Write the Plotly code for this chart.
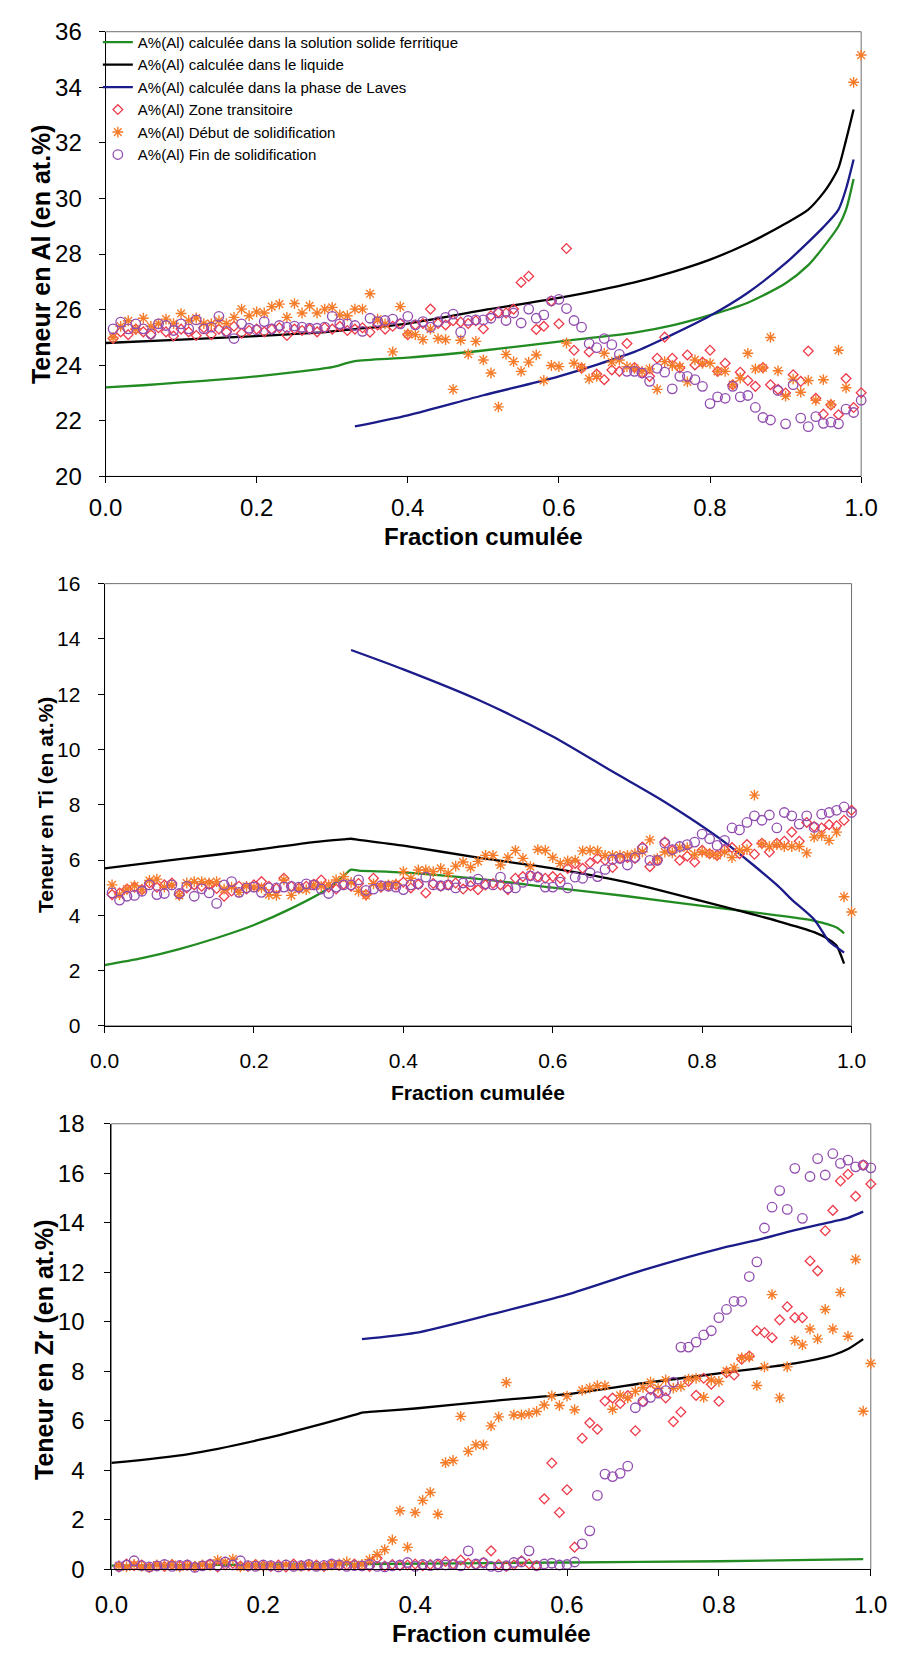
import plotly.graph_objects as go

# ---------------------------------------------------------------- data
# cumulated fraction grid of the measurements (0.01 ... 1.00)
FRACTION = [round(0.01 * k, 2) for k in range(1, 101)]

# ---- Al
AL_ZONE = [
    24.96, 25.20, 25.10, 25.30, 25.20, 25.10, 25.35, 25.20, 25.05, 25.30,
    25.20, 25.07, 25.35, 25.10, 25.30, 25.20, 25.40, 25.15, 25.25, 25.30,
    25.20, 25.30, 25.35, 25.07, 25.30, 25.25, 25.30, 25.20, 25.35, 25.30,
    25.40, 25.25, 25.30, 25.35, 25.19, 25.45, 25.30, 25.40, 25.50, 25.10,
    25.45, 25.50, 26.02, 25.50, 25.45, 25.60, 25.55, 25.50, 25.60, 25.31,
    25.78, 25.90, 25.88, 26.02, 26.98, 27.20, 25.29, 25.40, 26.31, 25.49,
    28.20, 24.54, 23.89, 24.48, 23.68, 23.48, 23.83, 23.78, 24.78, 23.92,
    23.72, 23.60, 24.25, 25.01, 24.25, 23.90, 24.37, 24.01, 24.11, 24.54,
    23.78, 24.07, 23.30, 23.75, 23.45, 23.24, 23.92, 23.30, 23.13, 23.00,
    23.66, 23.42, 24.51, 22.81, 22.24, 22.57, 22.22, 23.52, 22.48, 23.01,
]
AL_DEBUT = [
    25.00, 25.40, 25.60, 25.30, 25.69, 25.40, 25.50, 25.66, 25.50, 25.86,
    25.61, 25.70, 25.50, 25.50, 25.60, 25.50, 25.72, 26.02, 25.78, 25.92,
    25.88, 26.11, 26.20, 25.72, 26.22, 25.88, 26.14, 25.88, 26.02, 26.08,
    25.81, 25.78, 26.02, 26.02, 26.57, 25.66, 25.49, 24.48, 26.11, 25.13,
    25.10, 24.92, 25.30, 24.96, 24.92, 23.13, 24.90, 24.40, 24.86, 24.19,
    23.72, 22.50, 24.39, 24.13, 23.78, 24.11, 24.37, 23.45, 23.99, 23.95,
    24.80, 24.07, 23.92, 23.51, 23.60, 24.43, 24.11, 24.19, 23.95, 23.89,
    23.78, 23.87, 23.13, 24.13, 23.99, 23.95, 23.40, 24.19, 24.07, 24.07,
    23.78, 23.78, 23.30, 23.54, 24.43, 23.87, 23.90, 25.00, 23.80, 22.89,
    23.50, 23.03, 23.45, 22.74, 23.48, 22.60, 24.54, 23.19, 34.18, 35.16,
]
AL_FIN = [
    25.31, 25.55, 25.31, 25.49, 25.31, 25.13, 25.49, 25.43, 25.25, 25.49,
    25.31, 25.63, 25.31, 25.37, 25.76, 25.22, 24.96, 25.49, 25.33, 25.27,
    25.57, 25.31, 25.43, 25.37, 25.41, 25.37, 25.33, 25.33, 25.37, 25.76,
    25.49, 25.49, 25.43, 25.22, 25.69, 25.57, 25.61, 25.66, 25.49, 25.76,
    25.45, 25.57, 25.37, 25.57, 25.72, 25.84, 25.19, 25.61, 25.63, 25.63,
    25.69, 25.88, 25.61, 25.88, 25.52, 26.02, 25.69, 25.81, 26.31, 26.37,
    26.04, 25.61, 25.37, 24.78, 24.63, 24.96, 24.74, 24.39, 23.78, 23.78,
    23.72, 23.42, 23.89, 23.75, 23.15, 23.60, 23.60, 23.48, 23.24, 22.62,
    22.86, 22.81, 23.24, 22.86, 22.91, 22.48, 22.12, 22.03, 23.09, 21.89,
    23.30, 22.10, 21.79, 22.15, 21.91, 21.95, 21.89, 22.42, 22.30, 22.74,
]
AL_SS_X = [0, 0.05, 0.1, 0.15, 0.2, 0.25, 0.28, 0.3, 0.33, 0.4, 0.5, 0.6,
           0.7, 0.75, 0.8, 0.85, 0.9, 0.93, 0.95, 0.97, 0.98, 0.99]
AL_SS = [23.20, 23.28, 23.38, 23.48, 23.60, 23.75, 23.85, 23.93, 24.15, 24.27,
         24.53, 24.85, 25.17, 25.43, 25.80, 26.25, 26.95, 27.60, 28.25, 29.00,
         29.60, 30.70]
AL_LIQ_X = [0, 0.1, 0.2, 0.28, 0.33, 0.4, 0.5, 0.6, 0.7, 0.75, 0.8, 0.85,
            0.9, 0.93, 0.95, 0.96, 0.97, 0.98, 0.99]
AL_LIQ = [24.80, 24.92, 25.05, 25.17, 25.30, 25.50, 25.98, 26.42, 26.98, 27.35,
          27.80, 28.38, 29.10, 29.60, 30.20, 30.60, 31.10, 32.10, 33.20]
AL_LAV_X = [0.33, 0.4, 0.5, 0.6, 0.7, 0.75, 0.8, 0.85, 0.9, 0.95, 0.97, 0.98, 0.99]
AL_LAV = [21.80, 22.20, 22.92, 23.60, 24.48, 25.10, 25.78, 26.61, 27.67, 28.97,
          29.60, 30.35, 31.40]

# ---- Ti
TI_ZONE = [
    4.75, 4.81, 4.95, 5.02, 4.93, 5.17, 5.02, 5.10, 5.17, 4.75,
    4.99, 5.10, 5.05, 5.12, 4.97, 4.69, 4.88, 5.05, 4.95, 5.10,
    5.22, 5.05, 4.97, 5.34, 5.05, 4.99, 5.05, 5.12, 5.28, 5.02,
    4.95, 5.12, 5.05, 5.15, 4.75, 5.34, 5.02, 5.07, 5.10, 5.20,
    4.99, 5.12, 4.81, 5.15, 5.05, 5.10, 5.17, 4.95, 5.07, 4.93,
    5.10, 5.15, 5.10, 4.93, 5.34, 5.40, 5.43, 5.40, 5.34, 5.40,
    5.34, 5.70, 5.88, 5.70, 5.90, 6.06, 5.99, 5.73, 6.06, 6.09,
    6.06, 6.47, 5.76, 5.99, 6.65, 6.35, 5.99, 6.14, 5.93, 6.35,
    6.23, 6.17, 6.38, 6.45, 6.23, 6.56, 6.21, 6.61, 6.29, 6.61,
    6.68, 7.01, 6.68, 7.36, 7.21, 7.16, 7.28, 7.24, 7.44, 7.80,
]
TI_DEBUT = [
    5.10, 4.75, 4.95, 5.07, 4.93, 5.26, 5.31, 5.02, 5.10, 4.72,
    5.17, 5.22, 5.22, 5.17, 5.22, 4.95, 5.02, 4.83, 5.05, 5.02,
    4.99, 4.75, 4.72, 5.28, 4.72, 4.95, 4.93, 5.10, 5.05, 5.10,
    5.28, 5.40, 5.19, 4.87, 4.72, 5.14, 5.05, 5.10, 5.14, 5.58,
    5.34, 5.64, 5.64, 5.58, 5.70, 5.52, 5.78, 5.93, 5.73, 5.95,
    6.17, 6.17, 5.82, 6.09, 6.35, 6.06, 5.76, 6.38, 6.35, 6.09,
    5.88, 5.97, 5.99, 6.33, 6.35, 6.33, 6.17, 6.17, 6.17, 6.17,
    6.23, 6.30, 6.73, 6.06, 6.29, 6.26, 6.45, 6.45, 6.20, 6.29,
    6.23, 6.17, 6.30, 6.09, 6.35, 6.38, 8.35, 6.59, 6.49, 6.56,
    6.49, 6.49, 6.49, 6.26, 6.83, 6.89, 6.71, 7.01, 4.67, 4.12,
]
TI_FIN = [
    4.81, 4.55, 4.69, 4.72, 4.87, 5.10, 4.75, 4.79, 5.10, 4.79,
    5.05, 4.69, 4.96, 4.81, 4.43, 5.10, 5.22, 4.83, 4.99, 5.02,
    4.83, 4.99, 4.99, 5.02, 5.05, 5.02, 5.14, 5.10, 4.95, 4.79,
    5.02, 5.10, 5.10, 5.28, 4.90, 4.95, 5.07, 5.05, 5.02, 4.93,
    5.10, 5.14, 5.38, 5.10, 5.07, 5.10, 4.99, 5.17, 5.22, 5.31,
    5.14, 5.10, 5.38, 4.99, 4.99, 5.19, 5.43, 5.38, 5.02, 5.02,
    5.20, 4.99, 5.38, 5.34, 5.54, 5.40, 5.66, 6.02, 6.06, 5.82,
    6.09, 6.41, 5.99, 5.99, 6.61, 6.38, 6.49, 6.56, 6.65, 6.94,
    6.77, 6.53, 6.71, 7.16, 7.09, 7.36, 7.60, 7.44, 7.63, 7.16,
    7.72, 7.60, 7.30, 7.60, 7.18, 7.66, 7.72, 7.80, 7.92, 7.72,
]
TI_SS_X = [0, 0.05, 0.1, 0.15, 0.2, 0.25, 0.3, 0.32, 0.33, 0.34, 0.4, 0.5,
           0.6, 0.7, 0.8, 0.9, 0.95, 0.98, 0.99]
TI_SS = [2.20, 2.45, 2.78, 3.18, 3.65, 4.25, 4.98, 5.42, 5.65, 5.62, 5.55, 5.32,
         5.00, 4.69, 4.34, 4.00, 3.80, 3.56, 3.35]
TI_LIQ_X = [0, 0.1, 0.2, 0.28, 0.32, 0.33, 0.34, 0.4, 0.5, 0.6, 0.7, 0.8,
            0.9, 0.95, 0.97, 0.98, 0.99]
TI_LIQ = [5.70, 6.03, 6.36, 6.65, 6.75, 6.77, 6.73, 6.52, 6.09, 5.70, 5.19,
          4.51, 3.80, 3.39, 3.12, 2.90, 2.25]
TI_LAV_X = [0.33, 0.4, 0.5, 0.6, 0.68, 0.75, 0.83, 0.9, 0.92, 0.95, 0.97, 0.98, 0.99]
TI_LAV = [13.60, 12.90, 11.80, 10.47, 9.20, 8.10, 6.65, 5.10, 4.57, 3.85, 3.05,
          2.85, 2.65]

# ---- Zr
ZR_ZONE = [
    0.10, 0.22, 0.15, 0.18, 0.08, 0.14, 0.12, 0.20, 0.15, 0.18,
    0.12, 0.16, 0.22, 0.10, 0.18, 0.25, 0.14, 0.12, 0.20, 0.15,
    0.12, 0.18, 0.10, 0.22, 0.15, 0.14, 0.18, 0.12, 0.20, 0.16,
    0.18, 0.22, 0.15, 0.12, 0.45, 0.14, 0.20, 0.16, 0.18, 0.22,
    0.15, 0.20, 0.18, 0.32, 0.22, 0.38, 0.25, 0.20, 0.28, 0.75,
    0.20, 0.12, 0.18, 0.35, 0.22, 0.15, 2.85, 4.30, 2.30, 3.22,
    0.90, 5.30, 5.92, 5.66, 6.80, 6.92, 6.70, 7.02, 5.60, 6.77,
    7.26, 7.15, 6.93, 5.97, 6.36, 7.60, 7.03, 7.72, 7.48, 6.79,
    7.95, 7.85, 8.49, 8.62, 9.64, 9.57, 9.36, 10.08, 10.61, 10.17,
    10.17, 12.46, 12.06, 13.68, 14.50, 15.69, 15.96, 15.07, 16.33, 15.57,
]
ZR_DEBUT = [
    0.15, 0.10, 0.20, 0.12, 0.08, 0.18, 0.14, 0.20, 0.10, 0.16,
    0.12, 0.18, 0.15, 0.38, 0.30, 0.42, 0.10, 0.14, 0.18, 0.12,
    0.16, 0.10, 0.18, 0.14, 0.12, 0.20, 0.15, 0.12, 0.18, 0.22,
    0.30, 0.18, 0.20, 0.40, 0.60, 0.80, 1.19, 2.37, 0.89, 2.30,
    2.79, 3.11, 2.23, 4.31, 4.40, 6.18, 4.77, 5.03, 5.03, 5.80,
    6.16, 7.55, 6.24, 6.24, 6.29, 6.38, 6.64, 7.01, 6.62, 7.00,
    6.45, 7.23, 7.32, 7.42, 7.42, 6.47, 7.03, 6.93, 7.19, 7.35,
    7.56, 7.32, 7.65, 7.32, 7.39, 7.69, 7.72, 6.95, 7.65, 7.59,
    8.01, 8.14, 8.54, 8.58, 7.43, 8.18, 11.10, 6.93, 8.18, 9.24,
    9.07, 9.71, 9.31, 10.50, 9.71, 11.19, 9.42, 12.52, 6.39, 8.32,
]
ZR_FIN = [
    0.12, 0.18, 0.35, 0.15, 0.10, 0.14, 0.20, 0.12, 0.16, 0.18,
    0.08, 0.14, 0.20, 0.15, 0.30, 0.18, 0.35, 0.15, 0.12, 0.18,
    0.15, 0.10, 0.18, 0.12, 0.15, 0.20, 0.12, 0.16, 0.22, 0.18,
    0.12, 0.15, 0.14, 0.20, 0.12, 0.10, 0.14, 0.18, 0.28, 0.12,
    0.20, 0.15, 0.22, 0.18, 0.20, 0.14, 0.75, 0.22, 0.26, 0.12,
    0.10, 0.15, 0.28, 0.30, 0.75, 0.15, 0.22, 0.25, 0.18, 0.20,
    0.30, 1.03, 1.56, 2.99, 3.85, 3.75, 3.88, 4.17, 6.53, 6.79,
    6.95, 7.12, 7.22, 7.56, 8.98, 8.98, 9.18, 9.47, 9.64, 10.17,
    10.50, 10.83, 10.83, 11.83, 12.42, 13.79, 14.63, 15.30, 14.54, 16.20,
    14.18, 15.87, 16.59, 15.93, 16.79, 16.40, 16.53, 16.26, 16.33, 16.22,
]
ZR_SS_X = [0, 0.33, 0.6, 0.8, 0.99]
ZR_SS = [0.15, 0.22, 0.28, 0.33, 0.42]
ZR_LIQ_X = [0, 0.1, 0.2, 0.28, 0.32, 0.33, 0.34, 0.4, 0.5, 0.6, 0.7, 0.8, 0.9,
            0.95, 0.97, 0.99]
ZR_LIQ = [4.30, 4.65, 5.27, 5.90, 6.24, 6.33, 6.36, 6.50, 6.80, 7.08, 7.52,
          7.92, 8.32, 8.65, 8.90, 9.30]
ZR_LAV_X = [0.33, 0.4, 0.5, 0.6, 0.7, 0.8, 0.85, 0.9, 0.95, 0.97, 0.99]
ZR_LAV = [9.30, 9.55, 10.30, 11.10, 12.09, 12.95, 13.30, 13.70, 14.05, 14.20, 14.45]

NAMES = [
    "A%(Al) calculée dans la solution solide ferritique",
    "A%(Al) calculée dans le liquide",
    "A%(Al) calculée dans la phase de Laves",
    "A%(Al) Zone transitoire",
    "A%(Al) Début de solidification",
    "A%(Al) Fin de solidification",
]

# ---------------------------------------------------------------- styling
W, H = 908, 1670
GREEN, BLACK, NAVY = "#228B22", "#000000", "#1B1B8A"
RED, ORANGE, PURPLE = "#EE3B4B", "#F57C2A", "#914CB0"
FONT = "Liberation Sans, Arial, sans-serif"

PANELS = [
    dict(sfx="", xpx=(92, 877), ypx=(18, 470), yr=(20, 36),
         tick=24, xtitle=24, ytitle=25, xstand=4, ystand=12, xt_y=531,
         yt_x=25, yt_y=244,
         lines=[(AL_SS_X, AL_SS), (AL_LIQ_X, AL_LIQ), (AL_LAV_X, AL_LAV)],
         pts=[AL_ZONE, AL_DEBUT, AL_FIN], ytitle_txt="Teneur en Al (en at.%)"),
    dict(sfx="2", xpx=(91, 867), ypx=(579, 1028.5), yr=(0, 16),
         tick=21, xtitle=21, ytitle=21, xstand=10, ystand=13, xt_y=1096,
         yt_x=29, yt_y=804,
         lines=[(TI_SS_X, TI_SS), (TI_LIQ_X, TI_LIQ), (TI_LAV_X, TI_LAV)],
         pts=[TI_ZONE, TI_DEBUT, TI_FIN], ytitle_txt="Teneur en Ti (en at.%)"),
    dict(sfx="3", xpx=(98, 887), ypx=(1128, 1581), yr=(0, 18),
         tick=24, xtitle=24, ytitle=25, xstand=8, ystand=15, xt_y=1646,
         yt_x=28, yt_y=1357,
         lines=[(ZR_SS_X, ZR_SS), (ZR_LIQ_X, ZR_LIQ), (ZR_LAV_X, ZR_LAV)],
         pts=[ZR_ZONE, ZR_DEBUT, ZR_FIN], ytitle_txt="Teneur en Zr (en at.%)"),
]

LINE_COLORS = [GREEN, BLACK, NAVY]
MARKERS = [
    dict(symbol="diamond-open", size=7.5, color=RED, line=dict(width=1.3, color=RED)),
    dict(symbol="asterisk-open", size=9, color=ORANGE, line=dict(width=1.4, color=ORANGE)),
    dict(symbol="circle-open", size=9.5, color=PURPLE, line=dict(width=1.3, color=PURPLE)),
]

fig = go.Figure()
layout = dict(
    width=W, height=H, margin=dict(l=0, r=0, t=0, b=0),
    paper_bgcolor="white", plot_bgcolor="white",
    font=dict(family=FONT, color="black"),
    showlegend=True,
    legend=dict(x=84 / W, y=1 - 12 / H, xanchor="left", yanchor="top",
                bgcolor="rgba(0,0,0,0)", font=dict(size=15, family=FONT),
                itemwidth=30, tracegroupgap=0),
    shapes=[], annotations=[],
)

for i, p in enumerate(PANELS):
    xa, ya = "x" + p["sfx"], "y" + p["sfx"]
    for k, (lx, ly) in enumerate(p["lines"]):
        fig.add_trace(go.Scatter(
            x=lx, y=ly, mode="lines", name=NAMES[k], xaxis=xa, yaxis=ya,
            line=dict(color=LINE_COLORS[k], width=2.3, shape="spline",
                      smoothing=0.7),
            showlegend=(i == 0), legendrank=k + 1))
    for k, vals in enumerate(p["pts"]):
        fig.add_trace(go.Scatter(
            x=FRACTION, y=vals, mode="markers", name=NAMES[3 + k],
            xaxis=xa, yaxis=ya, marker=MARKERS[k], cliponaxis=False,
            showlegend=(i == 0), legendrank=k + 4))

    x0, x1 = p["xpx"]
    top, bot = p["ypx"]
    layout["xaxis" + p["sfx"]] = dict(
        domain=[x0 / W, x1 / W], anchor=ya, range=[0, 1],
        tickvals=[0, 0.2, 0.4, 0.6, 0.8, 1.0], tickformat=".1f",
        ticks="outside", ticklen=6, tickcolor="black", tickwidth=1,
        showline=True, linecolor="black", linewidth=1, mirror=False,
        showgrid=False, zeroline=False, ticklabelstandoff=p["xstand"],
        tickfont=dict(size=p["tick"], family=FONT, color="black"))
    layout["yaxis" + p["sfx"]] = dict(
        domain=[1 - bot / H, 1 - top / H], anchor=xa, range=list(p["yr"]),
        dtick=2, tick0=0, ticks="outside", ticklen=6, tickcolor="black",
        tickwidth=1, showline=True, linecolor="black", linewidth=1,
        mirror=False, showgrid=False, zeroline=False,
        ticklabelstandoff=p["ystand"],
        tickfont=dict(size=p["tick"], family=FONT, color="black"))
    # light frame closing the top and right sides of the plot area
    layout["shapes"].append(dict(
        type="rect", xref=xa + " domain", yref=ya + " domain",
        x0=0, x1=1, y0=0, y1=1, line=dict(color="#6E6E6E", width=1),
        layer="below"))
    layout["annotations"].append(dict(
        text="<b>Fraction cumulée</b>", xref="paper", yref="paper",
        x=(x0 + x1) / 2 / W, y=1 - p["xt_y"] / H, xanchor="center",
        yanchor="middle", showarrow=False,
        font=dict(size=p["xtitle"], family=FONT, color="black")))
    layout["annotations"].append(dict(
        text="<b>" + p["ytitle_txt"] + "</b>", xref="paper", yref="paper",
        x=p["yt_x"] / W, y=1 - p["yt_y"] / H, xanchor="center",
        yanchor="middle", textangle=-90, showarrow=False,
        font=dict(size=p["ytitle"], family=FONT, color="black")))

fig.update_layout(**layout)
fig.write_html("out.html")
